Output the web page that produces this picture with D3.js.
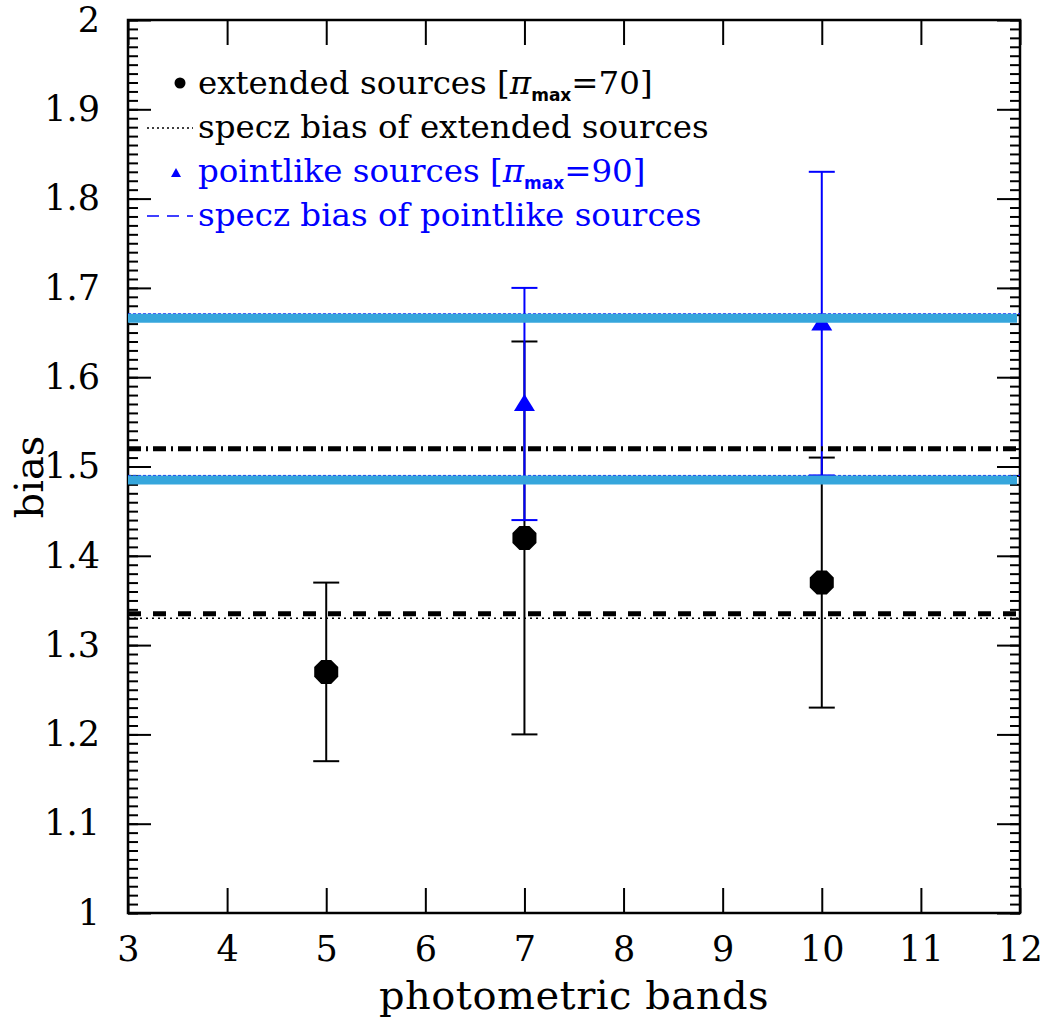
<!DOCTYPE html>
<meta charset="utf-8">
<title>bias vs photometric bands</title>
<style>
body {
  margin: 0px;
  background: #fff;
}
svg text {
  font-family: "DejaVu Serif", serif;
}
</style>
<body>
<script src="https://cdn.jsdelivr.net/npm/d3@7"></script>
<script>

// extended sources, pi_max = 70
var extBands = [5, 7, 10];
var extBias  = [1.27, 1.42, 1.37];
var extLow   = [1.17, 1.20, 1.23];
var extHigh  = [1.37, 1.64, 1.51];

// pointlike sources, pi_max = 90
var ptBands = [7, 10];
var ptBias  = [1.57, 1.66];
var ptLow   = [1.44, 1.49];
var ptHigh  = [1.70, 1.83];

// horizontal reference levels
var speczExt   = [1.33];          // dotted, thin
var extDashed  = [1.335];         // thick dashed
var extDashDot = [1.52];          // thick dash-dot
var speczPt    = [1.49, 1.671];   // thin blue dashed
var ptBand     = [1.485, 1.666];  // thick light blue

var xTicks = [3, 4, 5, 6, 7, 8, 9, 10, 11, 12];
var yTicks = [1, 1.1, 1.2, 1.3, 1.4, 1.5, 1.6, 1.7, 1.8, 1.9, 2];

var width = 1052, height = 1021;
var mLeft = 128, mRight = 1020, mTop = 20, mBottom = 913;

var x = d3.scaleLinear().domain([3, 12]).range([mLeft, mRight]);
var y = d3.scaleLinear().domain([1, 2]).range([mBottom, mTop]);

var svg = d3.select("body").append("svg")
    .attr("width", width)
    .attr("height", height);

var minorY = d3.range(100, 201).map(function(d) { return d / 100; });

// axes, ticks pointing inward
svg.append("g")
    .attr("transform", "translate(0," + mBottom + ")")
    .call(d3.axisBottom(x).tickValues(xTicks).tickSizeInner(-25).tickSizeOuter(0).tickPadding(23)
      .tickFormat(d3.format("d")));
svg.append("g")
    .attr("transform", "translate(0," + mTop + ")")
    .call(d3.axisTop(x).tickValues(xTicks).tickSizeInner(-25).tickSizeOuter(0).tickFormat(""));

svg.append("g")
    .attr("transform", "translate(" + mLeft + ",0)")
    .call(d3.axisLeft(y).tickValues(minorY).tickSizeInner(-10).tickSizeOuter(0).tickFormat(""));
svg.append("g")
    .attr("transform", "translate(" + mLeft + ",0)")
    .call(d3.axisLeft(y).tickValues(yTicks).tickSizeInner(-23).tickSizeOuter(0).tickPadding(28)
      .tickFormat(function(d) { return String(+d.toFixed(1)); }));
svg.append("g")
    .attr("transform", "translate(" + mRight + ",0)")
    .call(d3.axisRight(y).tickValues(minorY).tickSizeInner(-10).tickSizeOuter(0).tickFormat(""));
svg.append("g")
    .attr("transform", "translate(" + mRight + ",0)")
    .call(d3.axisRight(y).tickValues(yTicks).tickSizeInner(-23).tickSizeOuter(0).tickFormat(""));

svg.selectAll(".domain").remove();
svg.selectAll(".tick line").attr("stroke", "#000").attr("stroke-width", 2);
svg.selectAll(".tick text")
    .attr("fill", "#000")
    .style("font-family", "'DejaVu Serif', serif")
    .style("font-size", "35px");

svg.append("rect")
    .attr("x", mLeft).attr("y", mTop)
    .attr("width", mRight - mLeft).attr("height", mBottom - mTop)
    .attr("fill", "none")
    .attr("stroke", "#000")
    .attr("stroke-width", 2.5);

// axis titles
svg.append("text")
    .attr("x", (mLeft + mRight) / 2).attr("y", 1009)
    .attr("text-anchor", "middle")
    .style("font-size", "40px")
    .style("letter-spacing", "0.5px")
    .text("photometric bands");
svg.append("text")
    .attr("transform", "translate(43,477) rotate(-90)")
    .attr("text-anchor", "middle")
    .style("font-size", "40px")
    .text("bias");

function errBars(g, xs, lo, hi, color) {
  xs.forEach(function(b, i) {
    g.append("line")
        .attr("x1", x(b)).attr("x2", x(b))
        .attr("y1", y(lo[i])).attr("y2", y(hi[i]))
        .attr("stroke", color).attr("stroke-width", 2);
    [lo[i], hi[i]].forEach(function(v) {
      g.append("line")
          .attr("x1", x(b) - 13).attr("x2", x(b) + 13)
          .attr("y1", y(v)).attr("y2", y(v))
          .attr("stroke", color).attr("stroke-width", 2);
    });
  });
}

var marks = svg.append("g");
errBars(marks, extBands, extLow, extHigh, "#000");
errBars(marks, ptBands, ptLow, ptHigh, "#0000ff");

// octagonal dots
var octo = d3.range(8).map(function(k) {
  var a = Math.PI / 8 + k * Math.PI / 4;
  return [13 * Math.cos(a), 13 * Math.sin(a)];
});
marks.selectAll(".ext")
    .data(extBands)
  .enter().append("path")
    .attr("class", "ext")
    .attr("transform", function(d, i) { return "translate(" + x(d) + "," + y(extBias[i]) + ")"; })
    .attr("d", "M" + octo.join("L") + "Z")
    .attr("fill", "#000");

var tri = "M0,-10 L10.5,7 L-10.5,7 Z";
marks.selectAll(".pt")
    .data(ptBands)
  .enter().append("path")
    .attr("class", "pt")
    .attr("transform", function(d, i) { return "translate(" + x(d) + "," + y(ptBias[i]) + ")"; })
    .attr("d", tri)
    .attr("fill", "#0000ff");

// horizontal levels
function hlines(vals, color, w, dash, x2) {
  svg.append("g").selectAll("line")
      .data(vals)
    .enter().append("line")
      .attr("x1", mLeft).attr("x2", x2 || mRight)
      .attr("y1", function(d) { return y(d); })
      .attr("y2", function(d) { return y(d); })
      .attr("stroke", color)
      .attr("stroke-width", w)
      .attr("stroke-dasharray", dash);
}
hlines(speczPt, "#0000ff", 1, "3,2");
hlines(ptBand, "#36a6dc", 9, null, mRight - 3);
hlines(speczExt, "#000", 1.5, "2,4");
hlines(extDashed, "#000", 5, "13,12");
hlines(extDashDot, "#000", 5, "13,5,2,5");

// legend
var leg = svg.append("g").style("font-size", "32.5px");
var rows = [
  {y: 94, color: "#000", label: "extended sources [", pi: "70]"},
  {y: 138, color: "#000", label: "specz bias of extended sources"},
  {y: 182, color: "#0000ff", label: "pointlike sources [", pi: "90]"},
  {y: 226, color: "#0000ff", label: "specz bias of pointlike sources"}
];
rows.forEach(function(r) {
  var t = leg.append("text").attr("x", 198).attr("y", r.y).attr("fill", r.color);
  t.append("tspan").text(r.label);
  if (r.pi) {
    t.append("tspan").style("font-style", "italic").text("\u03c0");
    t.append("tspan").attr("dy", 7).style("font-size", "17px").style("font-weight", "bold")
        .style("font-family", "'DejaVu Sans', sans-serif").text("max");
    t.append("tspan").attr("dy", -7).text("=" + r.pi);
  }
});
leg.append("circle").attr("cx", 180).attr("cy", 83).attr("r", 5.5).attr("fill", "#000");
leg.append("line").attr("x1", 147).attr("x2", 193).attr("y1", 128).attr("y2", 128)
    .attr("stroke", "#000").attr("stroke-width", 1.5).attr("stroke-dasharray", "2,3");
leg.append("path").attr("transform", "translate(176,173)").attr("d", "M0,-5 L5,4 L-5,4 Z").attr("fill", "#0000ff");
leg.append("line").attr("x1", 147).attr("x2", 193).attr("y1", 216).attr("y2", 216)
    .attr("stroke", "#0000ff").attr("stroke-width", 1.5).attr("stroke-dasharray", "12,8");

</script>
</body>
